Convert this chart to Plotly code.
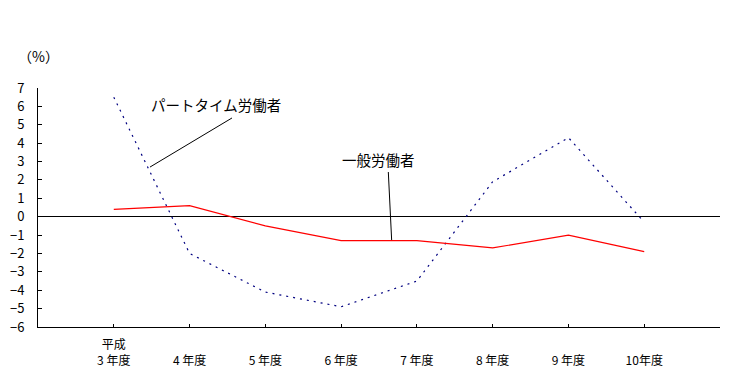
import plotly.graph_objects as go

categories = ["平成<br>3 年度", " <br>4 年度", " <br>5 年度", " <br>6 年度", " <br>7 年度", " <br>8 年度", " <br>9 年度", " <br>10年度"]
ippan = [0.4, 0.6, -0.5, -1.3, -1.3, -1.7, -1.0, -1.9]
part = [6.5, -2.0, -4.1, -4.9, -3.5, 1.9, 4.3, -0.3]
y_ticks = [7, 6, 5, 4, 3, 2, 1, 0, -1, -2, -3, -4, -5, -6]

FONT = "Noto Sans CJK JP"
idx = list(range(len(categories)))

fig = go.Figure()
fig.add_trace(go.Scatter(x=idx, y=part, mode="lines", name="パートタイム労働者",
                         line=dict(color="#000080", width=1.2, dash="2px,5px")))
fig.add_trace(go.Scatter(x=idx, y=ippan, mode="lines", name="一般労働者",
                         line=dict(color="#FF0000", width=1.2)))

fig.update_layout(
    width=741, height=370,
    margin=dict(l=30, r=29, t=80, b=51, autoexpand=False),
    paper_bgcolor="white", plot_bgcolor="white",
    showlegend=False,
    font=dict(family=FONT, size=12, color="black"),
    xaxis=dict(range=[-1, 8], tickmode="array", tickvals=idx + [8],
               ticktext=categories + [""], ticks="inside", ticklen=3,
               tickcolor="black", showline=True, linecolor="black", linewidth=1,
               showgrid=False, zeroline=False, ticklabelstandoff=7,
               tickfont=dict(family=FONT, size=12)),
    yaxis=dict(range=[-6, 7], tickmode="array", tickvals=y_ticks,
               ticktext=[str(v).replace("-", "−") for v in y_ticks],
               ticks="inside", ticklen=4, tickcolor="black",
               showline=True, linecolor="black", linewidth=1,
               showgrid=False, zeroline=True, zerolinecolor="black", zerolinewidth=1,
               ticklabelstandoff=10, tickfont=dict(family=FONT, size=13)),
    shapes=[
        dict(type="line", xref="x", yref="y", x0=0.478, y0=2.70, x1=1.56, y1=5.37,
             line=dict(color="black", width=1)),
        dict(type="line", xref="x", yref="y", x0=3.623, y0=2.43, x1=3.667, y1=-1.27,
             line=dict(color="black", width=1)),
    ],
    annotations=[
        dict(x=1.349, y=6.08, xref="x", yref="y", text="パートタイム労働者",
             showarrow=False, font=dict(family=FONT, size=14.5)),
        dict(x=3.487, y=3.11, xref="x", yref="y", text="一般労働者",
             showarrow=False, font=dict(family=FONT, size=14.5)),
        dict(x=0, y=1.184, xref="paper", yref="paper", text="（%）", xshift=-22,
             showarrow=False, font=dict(family=FONT, size=14)),
    ],
)

fig.write_html("out.html")
